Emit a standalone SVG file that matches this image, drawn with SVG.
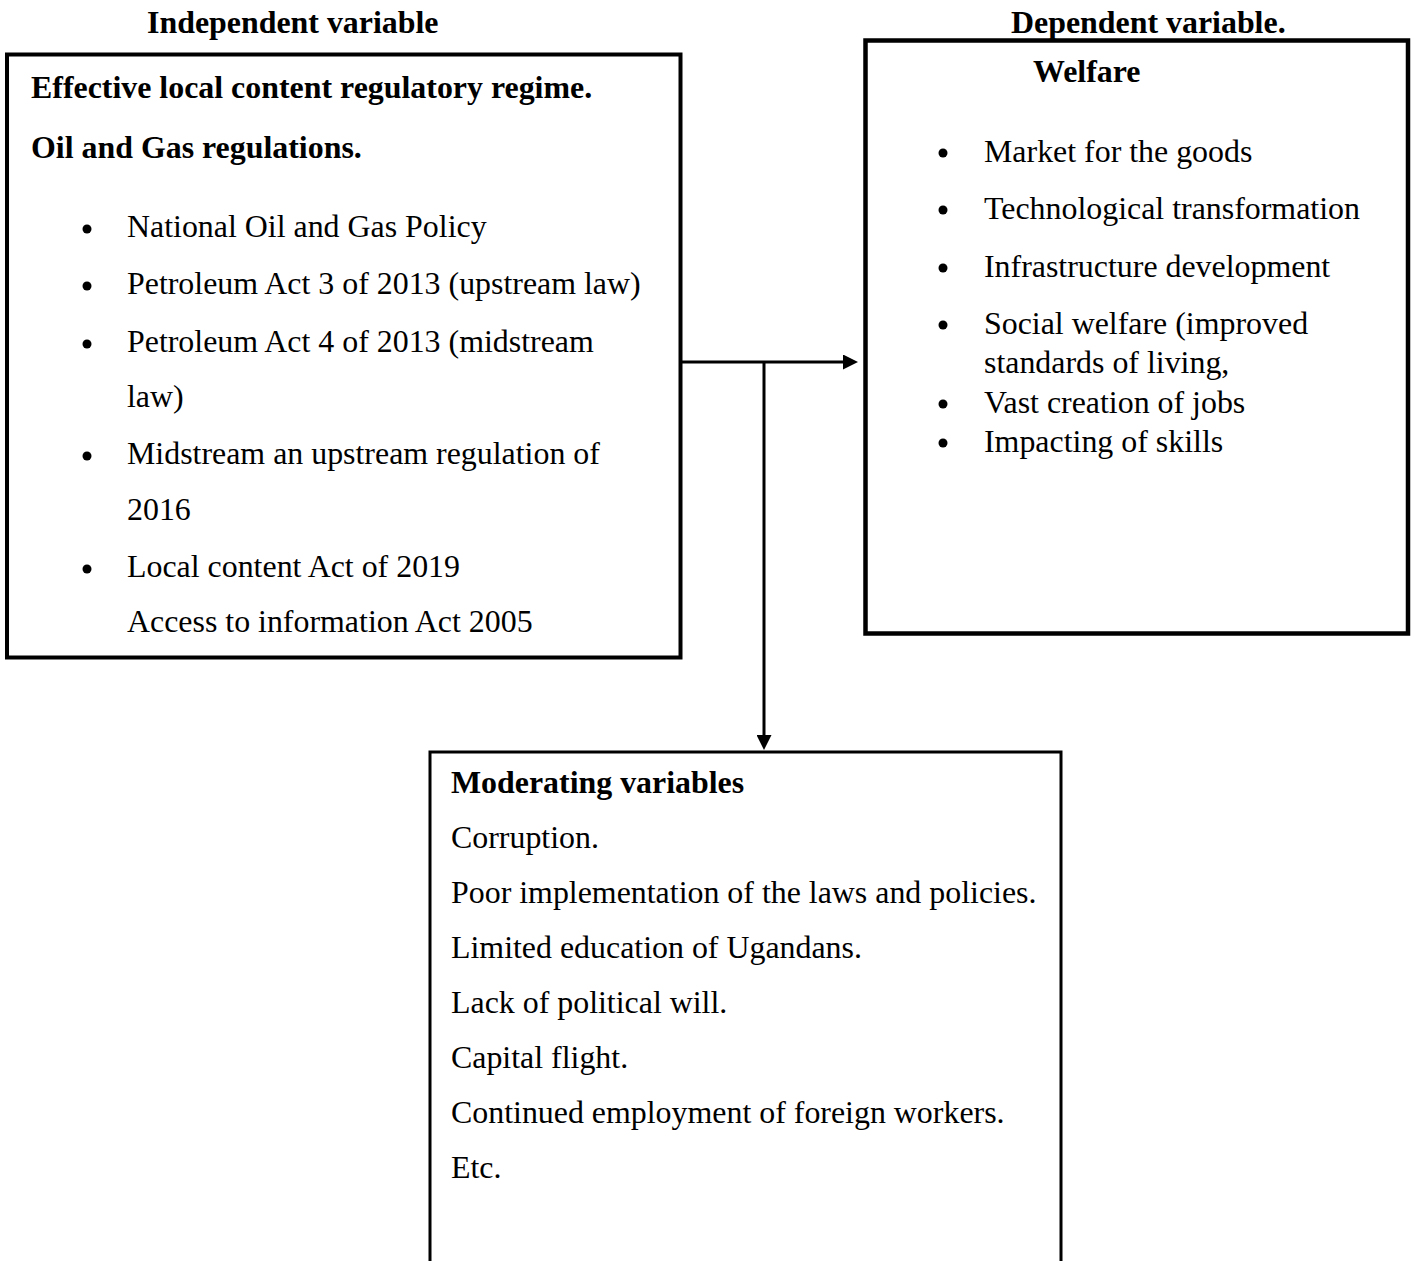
<svg xmlns="http://www.w3.org/2000/svg" width="1414" height="1261" viewBox="0 0 1414 1261">
<style>
.t{font-family:'Liberation Serif','Tinos','Times New Roman','Nimbus Roman','Nimbus Roman No9 L','FreeSerif','Noto Serif',Times,serif;font-size:31.9px;fill:#000}
.b{font-weight:bold}
.box{fill:none;stroke:#000}
.conn{stroke:#000;stroke-width:3;fill:none}
.dot{fill:#000}
</style>
<defs>
<marker id="arrow" viewBox="0 0 15 15" markerWidth="15" markerHeight="15" refX="0" refY="7.5" orient="auto" markerUnits="userSpaceOnUse">
<path d="M0,0 L15,7.5 L0,15 z" fill="#000"/>
</marker>
</defs>
<rect width="1414" height="1261" fill="#fff"/>
<g id="labels">
<text class="t b" x="147" y="33">Independent variable</text>
<text class="t b" x="1011" y="33">Dependent variable.</text>
</g>

<g id="independent">
<rect class="box" x="7" y="54.5" width="673.5" height="603" stroke-width="4"/>
<text class="t b" x="31" y="98">Effective local content regulatory regime.</text>
<text class="t b" x="31" y="158">Oil and Gas regulations.</text>
<circle class="dot" cx="87" cy="229" r="4.5"/>
<text class="t" x="127" y="237">National Oil and Gas Policy</text>
<circle class="dot" cx="87" cy="286" r="4.5"/>
<text class="t" x="127" y="294">Petroleum Act 3 of 2013 (upstream law)</text>
<circle class="dot" cx="87" cy="344" r="4.5"/>
<text class="t" x="127" y="352">Petroleum Act 4 of 2013 (midstream</text>
<text class="t" x="127" y="407">law)</text>
<circle class="dot" cx="87" cy="456" r="4.5"/>
<text class="t" x="127" y="464">Midstream an upstream regulation of</text>
<text class="t" x="127" y="520">2016</text>
<circle class="dot" cx="87" cy="569" r="4.5"/>
<text class="t" x="127" y="577">Local content Act of 2019</text>
<text class="t" x="127" y="632">Access to information Act 2005</text>
</g>

<g id="dependent">
<rect class="box" x="865.5" y="40.5" width="542.5" height="593" stroke-width="4.5"/>
<text class="t b" x="1033" y="82">Welfare</text>
<circle class="dot" cx="943" cy="153" r="4.5"/>
<text class="t" x="984" y="162">Market for the goods</text>
<circle class="dot" cx="943" cy="210" r="4.5"/>
<text class="t" x="984" y="219">Technological transformation</text>
<circle class="dot" cx="943" cy="268" r="4.5"/>
<text class="t" x="984" y="277">Infrastructure development</text>
<circle class="dot" cx="943" cy="325" r="4.5"/>
<text class="t" x="984" y="334">Social welfare (improved</text>
<text class="t" x="984" y="373">standards of living,</text>
<circle class="dot" cx="943" cy="404" r="4.5"/>
<text class="t" x="984" y="413">Vast creation of jobs</text>
<circle class="dot" cx="943" cy="443" r="4.5"/>
<text class="t" x="984" y="452">Impacting of skills</text>
</g>

<g id="moderating">
<path class="box" d="M430,1270 V752 H1061 V1270" stroke-width="3"/>
<text class="t b" x="451" y="793">Moderating variables</text>
<text class="t" x="451" y="848">Corruption.</text>
<text class="t" x="451" y="903">Poor implementation of the laws and policies.</text>
<text class="t" x="451" y="958">Limited education of Ugandans.</text>
<text class="t" x="451" y="1013">Lack of political will.</text>
<text class="t" x="451" y="1068">Capital flight.</text>
<text class="t" x="451" y="1123">Continued employment of foreign workers.</text>
<text class="t" x="451" y="1178">Etc.</text>
</g>

<g id="connectors">
<line class="conn" x1="682" y1="362" x2="843" y2="362" marker-end="url(#arrow)"/>
<line class="conn" x1="764" y1="362" x2="764" y2="735" marker-end="url(#arrow)"/>
</g>
</svg>
